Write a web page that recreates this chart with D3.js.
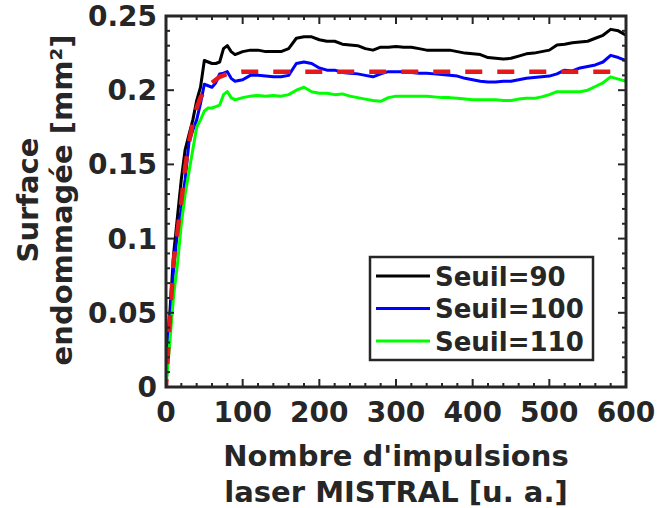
<!DOCTYPE html>
<html>
<head>
<meta charset="utf-8">
<script src="https://cdn.jsdelivr.net/npm/d3@7/dist/d3.min.js"></script>
<style>
  html, body { margin: 0; padding: 0; background: #fff; }
  svg text { font-family: "DejaVu Sans", sans-serif; font-weight: bold; fill: #262626; }
</style>
</head>
<body>
<svg id="chart" width="658" height="508"></svg>
<script>
/* Surface endommagée vs nombre d'impulsions, three thresholds + fitted curve. */

var pulses = [0, 5, 10, 15, 20, 25, 30, 35, 40, 45, 50, 55, 60, 65, 70, 75, 80, 85, 90,
  100, 110, 120, 130, 140, 150, 160, 170, 180, 190, 200, 210, 220, 230, 240, 250,
  260, 270, 280, 290, 300, 310, 320, 330, 340, 350, 360, 370, 380, 390, 400, 410,
  420, 430, 440, 450, 460, 470, 480, 490, 500, 510, 520, 530, 540, 550, 560, 570,
  580, 590, 600];

var seuil90 = [0.017, 0.05, 0.09, 0.115, 0.14, 0.16, 0.17, 0.18, 0.193, 0.202, 0.220, 0.219, 0.218, 0.218, 0.219, 0.228, 0.230, 0.226, 0.224,
  0.226, 0.227, 0.227, 0.226, 0.226, 0.226, 0.228, 0.235, 0.236, 0.236, 0.234, 0.233, 0.233, 0.231, 0.2305, 0.230,
  0.228, 0.227, 0.229, 0.229, 0.2295, 0.229, 0.229, 0.228, 0.227, 0.227, 0.227, 0.227, 0.226, 0.225, 0.2245, 0.224,
  0.222, 0.2215, 0.221, 0.2215, 0.223, 0.2245, 0.225, 0.226, 0.227, 0.2305, 0.231, 0.232, 0.2325, 0.233, 0.235, 0.237,
  0.241, 0.240, 0.237];

var seuil100 = [0.0, 0.045, 0.08, 0.105, 0.12, 0.14, 0.165, 0.173, 0.18, 0.191, 0.204, 0.203, 0.202, 0.205, 0.211, 0.2115, 0.2125, 0.208, 0.206,
  0.207, 0.210, 0.210, 0.2095, 0.209, 0.209, 0.210, 0.218, 0.219, 0.218, 0.215, 0.2135, 0.2135, 0.212, 0.2115, 0.211,
  0.210, 0.209, 0.211, 0.2125, 0.2125, 0.2125, 0.212, 0.2115, 0.2115, 0.211, 0.2105, 0.210, 0.2095, 0.208, 0.207, 0.206,
  0.2055, 0.2055, 0.206, 0.206, 0.207, 0.208, 0.2085, 0.209, 0.2095, 0.211, 0.2135, 0.213, 0.215, 0.216, 0.217, 0.219,
  0.2235, 0.222, 0.220];

var seuil110 = [0.0, 0.03, 0.062, 0.083, 0.11, 0.13, 0.145, 0.16, 0.175, 0.18, 0.186, 0.188, 0.188, 0.189, 0.19, 0.197, 0.199, 0.195, 0.1935,
  0.195, 0.196, 0.1965, 0.196, 0.1965, 0.196, 0.197, 0.200, 0.202, 0.199, 0.198, 0.198, 0.197, 0.1975, 0.196, 0.195,
  0.194, 0.193, 0.1925, 0.195, 0.196, 0.196, 0.196, 0.196, 0.196, 0.1955, 0.195, 0.195, 0.1945, 0.194, 0.1935, 0.1935,
  0.1935, 0.1935, 0.193, 0.193, 0.194, 0.1945, 0.1945, 0.1955, 0.197, 0.199, 0.199, 0.199, 0.199, 0.200, 0.2025, 0.205,
  0.209, 0.2075, 0.206];

var fitCurve = [0.0, 0.045, 0.085, 0.105, 0.125, 0.148, 0.165, 0.178, 0.188, 0.195, 0.199, 0.202, 0.205, 0.207, 0.209, 0.210, 0.211, 0.2115, 0.212,
  0.2125, 0.2125, 0.2125, 0.2125, 0.2125, 0.2125, 0.2125, 0.2125, 0.2125, 0.2125, 0.2125, 0.2125, 0.2125, 0.2125, 0.2125, 0.2125,
  0.2125, 0.2125, 0.2125, 0.2125, 0.2125, 0.2125, 0.2125, 0.2125, 0.2125, 0.2125, 0.2125, 0.2125, 0.2125, 0.2125, 0.2125, 0.2125,
  0.2125, 0.2125, 0.2125, 0.2125, 0.2125, 0.2125, 0.2125, 0.2125, 0.2125, 0.2125, 0.2125, 0.2125, 0.2125, 0.2125, 0.2125, 0.2125,
  0.2125, 0.2125, 0.2125];

var xTicks = [0, 100, 200, 300, 400, 500, 600];
var yTicks = [0, 0.05, 0.1, 0.15, 0.2, 0.25];
var yTickLabels = ["0", "0.05", "0.1", "0.15", "0.2", "0.25"];
var legendLabels = ["Seuil=90", "Seuil=100", "Seuil=110"];
var seriesColors = ["#000000", "#0000ff", "#00ff00"];

var svg = d3.select("#chart");
var m = { left: 166, top: 16, right: 626, bottom: 387 };
var axisColor = "#262626";

var x = d3.scaleLinear().domain([0, 600]).range([m.left, m.right]);
var y = d3.scaleLinear().domain([0, 0.25]).range([m.bottom, m.top]);

var plot = svg.append("g");
plot.append("defs").append("clipPath").attr("id", "clip")
  .append("rect").attr("x", m.left).attr("y", m.top)
  .attr("width", m.right - m.left).attr("height", m.bottom - m.top);

var line = d3.line()
  .x(function (d) { return x(d[0]); })
  .y(function (d) { return y(d[1]); });

function pts(vals) { return pulses.map(function (p, i) { return [p, vals[i]]; }); }

var curves = plot.append("g").attr("clip-path", "url(#clip)");
[seuil90, seuil100, seuil110].forEach(function (s, i) {
  curves.append("path").datum(pts(s))
    .attr("fill", "none").attr("stroke", seriesColors[i])
    .attr("stroke-width", 3).attr("stroke-linejoin", "round")
    .attr("d", line);
});
curves.append("path").datum(pts(fitCurve))
  .attr("fill", "none").attr("stroke", "#e3191c")
  .attr("stroke-width", 4.5).attr("stroke-dasharray", "17,15")
  .attr("stroke-dashoffset", 9)
  .attr("d", line);

// inward ticks on all four sides
var ticks = svg.append("g").attr("stroke", axisColor).attr("stroke-width", 2);
d3.range(0, 601, 20).forEach(function (v) {
  var len = v % 100 === 0 ? 8 : 4;
  ticks.append("line").attr("x1", x(v)).attr("x2", x(v)).attr("y1", m.bottom).attr("y2", m.bottom - len);
  ticks.append("line").attr("x1", x(v)).attr("x2", x(v)).attr("y1", m.top).attr("y2", m.top + len);
});
d3.range(0, 26).forEach(function (k) {
  var v = k / 100;
  var len = k % 5 === 0 ? 8 : 4;
  ticks.append("line").attr("x1", m.left).attr("x2", m.left + len).attr("y1", y(v)).attr("y2", y(v));
  ticks.append("line").attr("x1", m.right).attr("x2", m.right - len).attr("y1", y(v)).attr("y2", y(v));
});

svg.append("rect").attr("x", m.left).attr("y", m.top)
  .attr("width", m.right - m.left).attr("height", m.bottom - m.top)
  .attr("fill", "none").attr("stroke", axisColor).attr("stroke-width", 3);

// tick labels
svg.append("g").selectAll("text").data(xTicks).join("text")
  .attr("x", function (d) { return x(d); }).attr("y", 422)
  .attr("text-anchor", "middle").attr("font-size", 28)
  .text(function (d) { return d; });
svg.append("g").selectAll("text").data(yTicks).join("text")
  .attr("x", 157).attr("y", function (d) { return y(d) + 10; })
  .attr("text-anchor", "end").attr("font-size", 28)
  .text(function (d, i) { return yTickLabels[i]; });

// axis titles
var cx = (m.left + m.right) / 2;
svg.append("text").attr("x", cx).attr("y", 466).attr("text-anchor", "middle")
  .attr("font-size", 29).text("Nombre d'impulsions");
svg.append("text").attr("x", cx).attr("y", 502).attr("text-anchor", "middle")
  .attr("font-size", 29).text("laser MISTRAL [u. a.]");
svg.append("text").attr("transform", "translate(38,200) rotate(-90)")
  .attr("text-anchor", "middle").attr("font-size", 29).text("Surface");
svg.append("text").attr("transform", "translate(72,200) rotate(-90)")
  .attr("text-anchor", "middle").attr("font-size", 29).text("endommagée [mm²]");

// legend
var lg = svg.append("g");
lg.append("rect").attr("x", 370).attr("y", 257).attr("width", 223).attr("height", 103)
  .attr("fill", "#fff").attr("stroke", axisColor).attr("stroke-width", 2.5);
var rowY = d3.scalePoint().domain(legendLabels).range([276, 341]);
legendLabels.forEach(function (lab, i) {
  lg.append("line").attr("x1", 376).attr("x2", 430)
    .attr("y1", rowY(lab)).attr("y2", rowY(lab))
    .attr("stroke", seriesColors[i]).attr("stroke-width", 3);
  lg.append("text").attr("x", 435).attr("y", rowY(lab) + 9.5)
    .attr("font-size", 26).text(lab);
});
</script>
</body>
</html>
